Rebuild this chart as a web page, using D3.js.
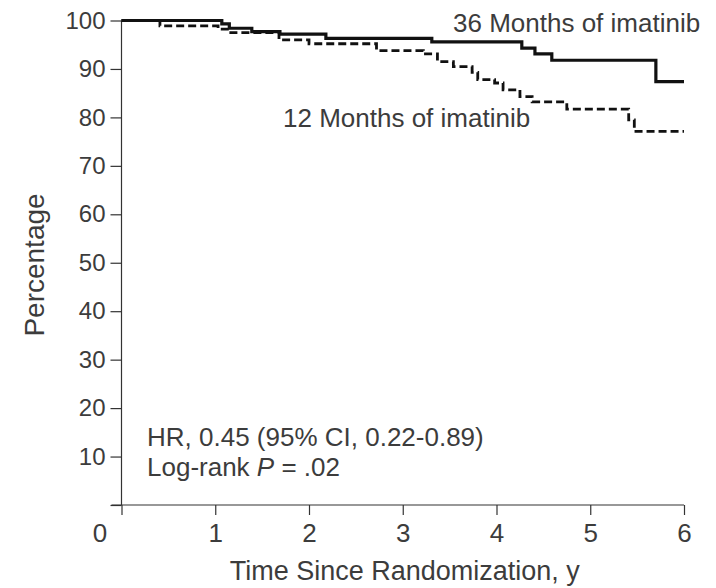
<!DOCTYPE html>
<html>
<head>
<meta charset="utf-8">
<script src="https://cdn.jsdelivr.net/npm/d3@7"></script>
<style>
  body { margin: 0; background: #fff; }
  svg text { font-family: "Liberation Sans", Arial, sans-serif; fill: #3c3c3c; }
</style>
</head>
<body>
<div id="chart"></div>
<script>
// step times (years) and survival (%)
const months36Time  = [0, 1.07, 1.15, 1.39, 1.69, 2.18, 3.31, 4.27, 4.41, 4.59, 5.70, 6.0]
const months36Value = [100, 99.3, 98.4, 97.7, 97.2, 96.3, 95.6, 94.3, 93.1, 91.8, 87.4, 87.4]

const months12Time  = [0, 0.41, 1.03, 1.15, 1.68, 2.0, 2.72, 3.22, 3.37, 3.54, 3.74, 3.8, 3.98, 4.07, 4.25, 4.38, 4.75, 5.41, 5.47, 6.0]
const months12Value = [100, 98.9, 98.2, 97.5, 96.0, 95.2, 93.8, 93.1, 91.5, 90.5, 89.3, 87.8, 87.1, 85.7, 84.3, 83.2, 81.7, 79.5, 77.1, 77.1]

const xTicks = [0, 1, 2, 3, 4, 5, 6]
const yTicks = [0, 10, 20, 30, 40, 50, 60, 70, 80, 90, 100]

const width = 716
const height = 588

const x = d3.scaleLinear()
    .domain([0, 6])
    .range([121.5, 684])

const y = d3.scaleLinear()
    .domain([0, 100])
    .range([505, 20.5])

const svg = d3.select('#chart')
    .append('svg')
    .attr('width', width)
    .attr('height', height)

// y axis (0 tick sits on the x axis, no label)
const yAxis = svg.append('g')
    .attr('transform', `translate(${x(0)},0)`)
    .call(d3.axisLeft(y).tickValues(yTicks).tickSize(11).tickPadding(5)
        .tickFormat(d => d === 0 ? '' : d))
yAxis.select('.domain').attr('d', `M0,${y(100)}V${y(0)}`)
yAxis.selectAll('.tick text').attr('font-size', 24)

// x axis
const xAxis = svg.append('g')
    .attr('transform', `translate(0,${y(0)})`)
    .call(d3.axisBottom(x).tickValues(xTicks).tickSize(10).tickPadding(9)
        .tickFormat(d3.format('d')))
xAxis.select('.domain').attr('d', `M${x(0) - 10},0H${x(6)}`)
xAxis.selectAll('.tick text')
    .attr('font-size', 26)
    .attr('dx', d => d === 0 ? -22 : 0)

svg.selectAll('.domain, .tick line')
    .attr('stroke', '#333')
    .attr('stroke-width', 1.2)
svg.selectAll('.tick text')
    .attr('fill', '#3c3c3c')
    .style('font-family', '"Liberation Sans", Arial, sans-serif')

const line = d3.line()
    .x(d => x(d[0]))
    .y(d => y(d[1]))
    .curve(d3.curveStepAfter)

svg.append('path')
    .datum(d3.zip(months12Time, months12Value))
    .attr('d', line)
    .attr('fill', 'none')
    .attr('stroke', '#111')
    .attr('stroke-width', 2.8)
    .attr('stroke-dasharray', '8,4')

svg.append('path')
    .datum(d3.zip(months36Time, months36Value))
    .attr('d', line)
    .attr('fill', 'none')
    .attr('stroke', '#111')
    .attr('stroke-width', 3.2)

// labels
svg.append('text')
    .attr('x', 453)
    .attr('y', 32)
    .style('font-size', '26px')
    .text('36 Months of imatinib')

svg.append('text')
    .attr('x', 283)
    .attr('y', 127)
    .style('font-size', '26px')
    .text('12 Months of imatinib')

svg.append('text')
    .attr('x', 147)
    .attr('y', 446)
    .style('font-size', '26px')
    .text('HR, 0.45 (95% CI, 0.22-0.89)')

const lr = svg.append('text')
    .attr('x', 147)
    .attr('y', 476)
    .style('font-size', '26px')
lr.append('tspan').text('Log-rank ')
lr.append('tspan').style('font-style', 'italic').text('P')
lr.append('tspan').text(' = .02')

svg.append('text')
    .attr('x', (x(0) + x(6)) / 2 + 2)
    .attr('y', 580)
    .style('font-size', '27px')
    .style('text-anchor', 'middle')
    .text('Time Since Randomization, y')

svg.append('text')
    .attr('transform', 'rotate(-90)')
    .attr('x', -265)
    .attr('y', 44)
    .style('font-size', '28px')
    .style('text-anchor', 'middle')
    .text('Percentage')
</script>
</body>
</html>
